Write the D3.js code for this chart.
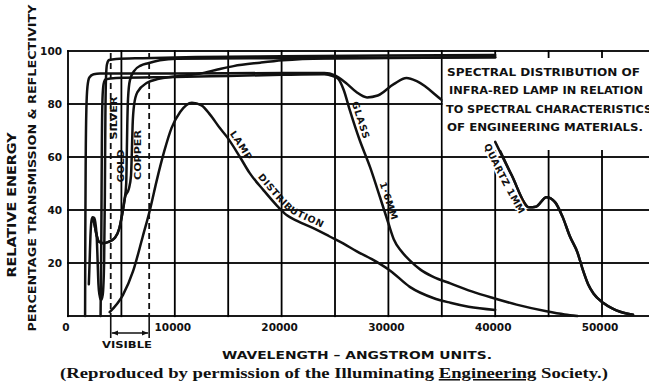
<!DOCTYPE html>
<html><head><meta charset="utf-8">
<script src="https://cdn.jsdelivr.net/npm/d3@7"></script>
<style>
html,body{margin:0;padding:0;background:#fff;}
svg{display:block;}
text{font-family:"DejaVu Sans",sans-serif;font-weight:bold;fill:#111;}
</style></head><body>
<svg id="c" width="649" height="384"></svg>
<script>
// ---------- data ----------
const yGridValues = [0, 20, 40, 60, 80, 100];
const yTickLabels = ["", "20", "40", "60", "80", "100"];
const xGridValues = [0, 5000, 10000, 15000, 20000, 25000, 30000, 35000, 40000, 45000, 50000];
const xTickValues = [0, 10000, 20000, 30000, 40000, 50000];
const xTickLabels = ["0", "10000", "20000", "30000", "40000", "50000"];
const visibleRange = [4000, 7600];

// [wavelength (Å), percent]
const quartz = [[1600,0],[1620,30],[1660,60],[1720,78],[1820,86.5],[2000,90],[2400,91.2],[3000,91.5],[10000,91.5],[20000,91.7],[24000,91.7],[25000,90.8],[26000,88],[27000,84.5],[28000,82.5],[29000,83.2],[30500,87.5],[31700,89.8],[32700,88.5],[35000,81.5],[37500,73.5],[40000,65.7],[41500,53.5],[43200,41],[43800,41.2],[44800,44.8],[45600,43],[46300,37.5],[47000,30],[47700,24],[48200,17.5],[48700,12],[49200,8.5],[50100,5],[51000,2.8],[51700,1.6],[52900,0.5]];
const silver = [[1950,12],[2020,20],[2100,30],[2200,36],[2300,37.3],[2450,37],[2600,34],[2700,29],[2780,20],[2850,12],[2950,8],[3100,6],[3250,8],[3380,20],[3450,45],[3500,75],[3560,90],[3650,95],[3850,96.6],[4500,97],[7000,97.3],[12000,97.7],[20000,98],[30000,98.3],[40000,98.5]];
const gold = [[2300,36.5],[2450,35],[2650,31],[2900,28],[3300,27.5],[3800,28],[4400,29.5],[4800,33],[5100,39],[5300,44],[5450,50],[5500,60],[5550,72],[5620,82],[5800,89],[6200,92.5],[6800,94.5],[7500,95.4],[8600,96.5],[10200,97.1],[20000,97.3],[40000,97.6]];
const copper = [[2300,36.5],[2450,35],[2650,31],[2900,28],[3300,27.5],[3800,28],[4400,29.5],[4800,33],[5100,39],[5350,45],[5700,48],[5900,53],[5980,62],[6050,72],[6200,80],[6500,84.5],[7400,88],[8500,89.5],[9800,90.3],[12400,91.5],[14000,93],[15500,94.3],[18000,95.6],[20100,96.5],[24000,97.2],[40000,97.6]];
const glass = [[3050,0],[3120,30],[3170,65],[3230,82],[3330,87.5],[3500,89.3],[4500,89.8],[10000,90.2],[15000,90.6],[20000,91],[24000,91.2],[24800,90.5],[25300,89.5],[25800,85.5],[26400,77.5],[27300,66.5],[28300,56],[29200,45],[30000,35],[30500,29],[31200,24.5],[32000,21],[33000,17.5],[34200,14.8],[35800,12.3],[37800,9.3],[39800,6.8],[42000,4.3],[44800,1.8],[46500,0.6],[47700,0]];
const lamp = [[3900,1.5],[5150,8],[6100,17],[7000,30],[7700,40.5],[8300,51],[9000,62],[9700,71],[10500,77],[11600,80.5],[12500,79.5],[13300,76],[14200,71],[14900,67.5],[16100,60],[17000,54],[18300,47.5],[19600,41.5],[20500,38],[21400,36],[23300,32.5],[24500,30],[25800,27.3],[27000,24.5],[28900,20.4],[30200,17],[32000,11],[34200,6.8],[35800,5],[37500,3.5],[40000,2.3]];

const boxLines = ["SPECTRAL DISTRIBUTION OF", "INFRA-RED LAMP IN RELATION", "TO SPECTRAL CHARACTERISTICS", "OF ENGINEERING MATERIALS."];

// ---------- drawing ----------
const svg = d3.select("#c");
const W = 649;
const ink = "#111";
const x = d3.scaleLinear().domain([0, 55000]).range([68, 655.4]);
const y = d3.scaleLinear().domain([0, 100]).range([316, 51]);
const defs = svg.append("defs");
defs.append("marker").attr("id", "ar").attr("viewBox", "0 0 10 10").attr("refX", 10).attr("refY", 5)
  .attr("markerWidth", 5).attr("markerHeight", 5).attr("orient", "auto-start-reverse")
  .append("path").attr("d", "M0,1L10,5L0,9z").attr("fill", ink);

svg.append("rect").attr("width", 649).attr("height", 384).attr("fill", "#fff");

// grid drawn as thin filled rectangles, positioned by the scales
const gw = 1.8;
const gridG = svg.append("g").attr("fill", "#000");
gridG.selectAll("rect.gh").data(yGridValues).enter().append("rect").attr("class", "gh")
  .attr("x", x(0) - gw / 2).attr("y", d => y(d) - gw / 2).attr("width", W - x(0) + 1).attr("height", gw);
gridG.selectAll("rect.gv").data(xGridValues).enter().append("rect").attr("class", "gv")
  .attr("x", d => x(d) - gw / 2).attr("y", y(100) - gw / 2).attr("width", gw).attr("height", y(0) - y(100) + 2);

const line = d3.line().x(d => x(d[0])).y(d => y(d[1])).curve(d3.curveMonotoneX);
const curveStyle = sel => sel.attr("fill", "none").attr("stroke", ink).attr("stroke-width", 2.5)
  .attr("stroke-linejoin", "round").attr("stroke-linecap", "round");

// quartz (passes under the caption box)
svg.append("path").datum(quartz).attr("d", line).call(curveStyle);

// caption box
svg.append("rect").attr("x", x(35000) + 1).attr("y", 58).attr("width", W - x(35000)).attr("height", 92).attr("fill", "#fff");
svg.append("g").selectAll("text").data(boxLines).join("text")
  .attr("x", (d, i) => [447, 449, 446, 447][i])
  .attr("y", (d, i) => 76 + i * 18.3)
  .attr("font-size", 10.5)
  .attr("textLength", (d, i) => [193, 194, 206, 196][i])
  .attr("lengthAdjust", "spacingAndGlyphs")
  .text(d => d);

// quartz continuation below the box
svg.append("path").datum(quartz.filter(d => d[0] >= 40000)).attr("d", line).call(curveStyle);

// visible band
visibleRange.forEach(v => {
  svg.append("line").attr("x1", x(v)).attr("x2", x(v)).attr("y1", y(100) + 2).attr("y2", y(0))
    .attr("stroke", ink).attr("stroke-width", 1.8).attr("stroke-dasharray", "6,4");
  svg.append("line").attr("x1", x(v)).attr("x2", x(v)).attr("y1", y(0)).attr("y2", 338)
    .attr("stroke", ink).attr("stroke-width", 1.6);
});
svg.append("line").attr("x1", x(visibleRange[0]) + 1).attr("x2", x(visibleRange[1]) - 1)
  .attr("y1", 333).attr("y2", 333).attr("stroke", ink).attr("stroke-width", 1.3)
  .attr("marker-start", "url(#ar)").attr("marker-end", "url(#ar)");
svg.append("text").attr("x", (x(visibleRange[0]) + x(visibleRange[1])) / 2 - 3).attr("y", 348)
  .attr("text-anchor", "middle").attr("font-size", 9).attr("textLength", 50).attr("lengthAdjust", "spacingAndGlyphs").text("VISIBLE");

// curves
[silver, gold, copper, glass, lamp].forEach(s => {
  svg.append("path").datum(s).attr("d", line).call(curveStyle);
});

// axis tick labels
svg.append("g").selectAll("text").data(yGridValues).join("text")
  .attr("x", 62).attr("y", d => y(d) + 4).attr("text-anchor", "end").attr("font-size", 10.5)
  .text((d, i) => yTickLabels[i]);
svg.append("g").selectAll("text").data(xTickValues).join("text")
  .attr("x", d => x(d) - 2).attr("y", 331).attr("text-anchor", "middle").attr("font-size", 10.5)
  .text((d, i) => xTickLabels[i]);

// axis titles
svg.append("text").attr("transform", "translate(12,205) rotate(-90)").attr("text-anchor", "middle")
  .attr("dominant-baseline", "central").attr("font-size", 12).attr("textLength", 145).attr("lengthAdjust", "spacingAndGlyphs")
  .text("RELATIVE  ENERGY");
svg.append("text").attr("transform", "translate(32,168) rotate(-90)").attr("text-anchor", "middle")
  .attr("dominant-baseline", "central").attr("font-size", 11).attr("textLength", 327).attr("lengthAdjust", "spacingAndGlyphs")
  .text("PERCENTAGE TRANSMISSION & REFLECTIVITY");
svg.append("text").attr("x", 357).attr("y", 359).attr("text-anchor", "middle").attr("font-size", 11)
  .attr("textLength", 270).attr("lengthAdjust", "spacingAndGlyphs").text("WAVELENGTH – ANGSTROM   UNITS.");
svg.append("text").attr("x", 60).attr("y", 378)
  .style("font-family", "'Liberation Serif','DejaVu Serif',serif").attr("font-size", 15.5)
  .attr("textLength", 548).attr("lengthAdjust", "spacingAndGlyphs")
  .html('(Reproduced by permission of the Illuminating <tspan text-decoration="underline">Engineering</tspan> Society.)');

// vertical material labels
const vlab = [["SILVER", 113.5, 118, 43], ["GOLD", 120.5, 166, 33], ["COPPER", 138, 155, 50]];
svg.append("g").selectAll("text").data(vlab).join("text")
  .attr("transform", d => `translate(${d[1]},${d[2]}) rotate(-90)`)
  .attr("text-anchor", "middle").attr("dominant-baseline", "central").attr("font-size", 9)
  .attr("textLength", d => d[3]).attr("lengthAdjust", "spacingAndGlyphs")
  .text(d => d[0]);

// labels following curves
let pid = 0;
function curveLabel(data, a0, a1, off, txt, fs, ls, halo) {
  const seg = data.filter(d => d[0] >= a0 && d[0] <= a1);
  const tmp = svg.append("path").attr("d", line(seg)).attr("fill", "none");
  const node = tmp.node(), L = node.getTotalLength();
  const N = 40, pts = [];
  for (let i = 0; i <= N; i++) pts.push(node.getPointAtLength(L * i / N));
  tmp.remove();
  const offPts = pts.map((p, i) => {
    const a = pts[Math.max(0, i - 1)], b = pts[Math.min(N, i + 1)];
    const dx = b.x - a.x, dy = b.y - a.y, n = Math.hypot(dx, dy) || 1;
    return [p.x + off * dy / n, p.y - off * dx / n];
  });
  const id = "lp" + (pid++);
  defs.append("path").attr("id", id).attr("d", d3.line().curve(d3.curveBasis)(offPts));
  const t = svg.append("text").attr("font-size", fs).attr("letter-spacing", ls);
  if (halo) t.attr("stroke", "#fff").attr("stroke-width", 3).attr("paint-order", "stroke");
  t.append("textPath").attr("href", "#" + id).attr("startOffset", "50%").attr("text-anchor", "middle").text(txt);
}
curveLabel(lamp, 13800, 17500, 4, "LAMP", 9.5, 0.8, false);
curveLabel(lamp, 16100, 25800, 4, "DISTRIBUTION", 9.5, 0.6, false);
curveLabel(glass, 25300, 28300, 4, "GLASS", 9.5, 1, false);
curveLabel(glass, 28300, 30500, 4, "1·6MM", 9.5, 0.8, false);
curveLabel(quartz, 39500, 43500, -12, "QUARTZ 1MM", 9.5, 0.6, true);
</script>
</body></html>
